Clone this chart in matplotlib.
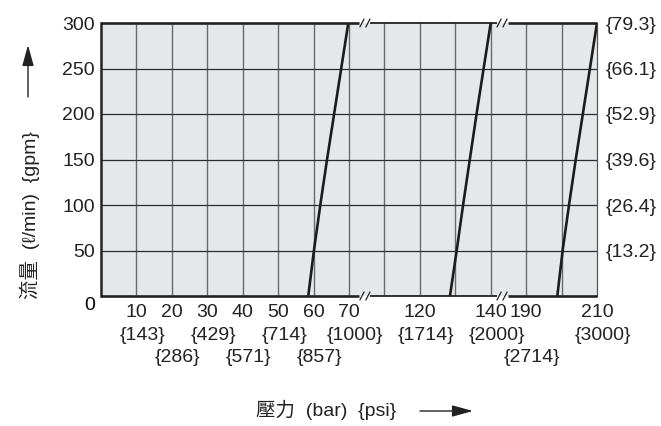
import numpy as np
import matplotlib
matplotlib.use("Agg")
import matplotlib.pyplot as plt

# --- data ---
flow = [0, 50, 100, 150, 200, 250, 300]                      # l/min
curve_a = [58.5, 60.1, 61.9, 63.8, 65.8, 67.8, 69.8]         # bar
curve_b = [128.5, 130.4, 132.2, 134.1, 136.0, 138.0, 140.0]
curve_c = [198.8, 200.3, 202.1, 204.0, 206.0, 208.0, 210.0]

grid_bar = [0, 10, 20, 30, 40, 50, 60, 70, 110, 120, 130, 140, 190, 200, 210]
bar_ticks = [10, 20, 30, 40, 50, 60, 70, 120, 140, 190, 210]
psi_labels = ["{143}", "{286}", "{429}", "{571}", "{714}", "{857}",
              "{1000}", "{1714}", "{2000}", "{2714}", "{3000}"]
psi_row = [0, 1, 0, 1, 0, 1, 0, 0, 0, 1, 0]

flow_ticks = [0, 50, 100, 150, 200, 250, 300]
gpm_ticks = [50, 100, 150, 200, 250, 300]
gpm_labels = ["{13.2}", "{26.4}", "{39.6}", "{52.9}", "{66.1}", "{79.3}"]

# broken x axis: kept bar ranges, one grid column per 10 bar
seg_bar = [0, 70, 110, 140, 190, 210]
seg_col = [0, 7, 8, 11, 12, 14]

FONT = ["Liberation Sans", "Noto Sans CJK TC", "DejaVu Sans"]
plt.rcParams["font.family"] = FONT
plt.rcParams["font.size"] = 14


def fwd(x):
    return np.interp(x, seg_bar, seg_col)


def inv(c):
    return np.interp(c, seg_col, seg_bar)


fig = plt.figure(figsize=(6.61, 4.26), dpi=100)
W, H = 661, 426
ax = fig.add_axes([101 / W, 130 / H, 496 / W, 273 / H])
ax.set_xscale("function", functions=(fwd, inv))
ax.set_xlim(0, 210)
ax.set_ylim(0, 300)
ax.set_facecolor("#e6e7e9")

for b in grid_bar[1:-1]:
    ax.axvline(b, color="#6a6a6a", lw=1.0, zorder=1)
for f in flow_ticks[1:-1]:
    ax.axhline(f, color="#2b2b2b", lw=0.9, zorder=1)

for c in (curve_a, curve_b, curve_c):
    ax.plot(c, flow, color="#1c1c1c", lw=1.9, zorder=3, solid_capstyle="butt")

# spines
for s in ("top", "bottom"):
    ax.spines[s].set_visible(False)
ax.spines["left"].set_linewidth(1.8)
ax.spines["left"].set_color("#222222")
ax.spines["right"].set_linewidth(0.9)
ax.spines["right"].set_color("#555555")

brk = [7.45 / 14, 11.32 / 14]
gap = 0.011
pieces = [(0, brk[0] - gap, 1.9), (brk[0] + gap, brk[1] - gap, 1.3), (brk[1] + gap, 1, 1.9)]
for y in (0, 1):
    for x0, x1, lw in pieces:
        ax.plot([x0, x1], [y, y], transform=ax.transAxes, color="#222222",
                lw=lw, clip_on=False, zorder=4, solid_capstyle="butt")
    for c in brk:
        for d in (-0.006, 0.006):
            ax.plot([c + d - 0.004, c + d + 0.004], [y - 0.014, y + 0.014],
                    transform=ax.transAxes, color="#222222", lw=0.9,
                    clip_on=False, zorder=4)

# x ticks: bar + psi rows
ax.set_xticks(bar_ticks)
ax.set_xticklabels([str(b) for b in bar_ticks])
ax.tick_params(axis="x", length=0, pad=6)
ax.xaxis.set_minor_locator(matplotlib.ticker.NullLocator())
for b, lab, r in zip(bar_ticks, psi_labels, psi_row):
    ax.annotate(lab, xy=(b, 0), xycoords=("data", "axes fraction"),
                xytext=(6, -39 - 22 * r), textcoords="offset pixels",
                ha="center", va="center", color="#222222")

# y ticks left (0 sits lower) and right in gpm
ax.set_yticks(flow_ticks[1:])
ax.set_yticklabels([str(f) for f in flow_ticks[1:]])
ax.tick_params(axis="y", length=0, pad=4.5)
ax.annotate(str(flow_ticks[0]), xy=(0, 0), xycoords="axes fraction",
            xytext=(-6, -10), textcoords="offset pixels", ha="right", va="center")

ax2 = ax.twinx()
ax2.set_ylim(0, 300)
ax2.set_yticks(gpm_ticks)
ax2.set_yticklabels(gpm_labels)
ax2.tick_params(axis="y", length=0, pad=6.5)
for s in ax2.spines.values():
    s.set_visible(False)

for a in (ax, ax2):
    for t in a.get_xticklabels() + a.get_yticklabels():
        t.set_color("#222222")

# axis titles with arrows
fig.text(30 / W, 1 - 215 / H, "流量  (ℓ/min)  {gpm}", rotation=90,
         ha="center", va="center", color="#222222")
fig.text(326 / W, 1 - 410 / H, "壓力  (bar)  {psi}", ha="center", va="center",
         color="#222222")
arrow = dict(arrowstyle="-|>,head_length=0.8,head_width=0.22", color="#222222",
             lw=1.0, mutation_scale=16, shrinkA=0, shrinkB=0)
ax.annotate("", xy=(28, H - 45), xytext=(28, H - 97), xycoords="figure pixels",
            textcoords="figure pixels", arrowprops=arrow)
ax.annotate("", xy=(473, H - 411), xytext=(420, H - 411), xycoords="figure pixels",
            textcoords="figure pixels", arrowprops=arrow)

fig.savefig("out.png", dpi=100)
